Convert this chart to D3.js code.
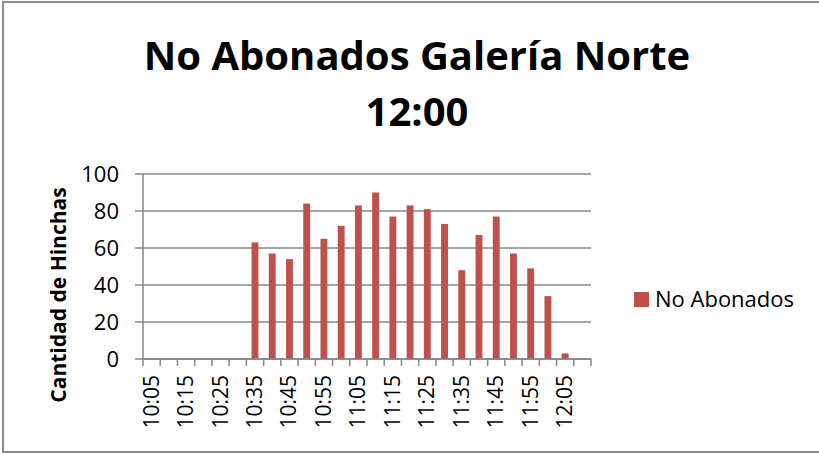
<!DOCTYPE html>
<html>
<head>
<meta charset="utf-8">
<script src="https://cdn.jsdelivr.net/npm/d3@7"></script>
<style>
  body { margin: 0; background: #fff; }
  text { font-family: "Open Sans", "Noto Sans", sans-serif; fill: #000; }
</style>
</head>
<body>
<svg width="819" height="454"></svg>
<script>
// categories every 5 minutes, labels shown every other one
var categories = ["10:05","10:10","10:15","10:20","10:25","10:30","10:35","10:40","10:45","10:50",
    "10:55","11:00","11:05","11:10","11:15","11:20","11:25","11:30","11:35","11:40",
    "11:45","11:50","11:55","12:00","12:05","12:10"];
var values = [0,0,0,0,0,0,63,57,54,84,65,72,83,90,77,83,81,73,48,67,77,57,49,34,3,0];
var yTicks = [0,20,40,60,80,100];
var seriesName = "No Abonados";
var barColor = "#c0504d";

var svg = d3.select("svg"),
    width = +svg.attr("width"),
    height = +svg.attr("height");

// chart border (left / top / bottom)
svg.append("rect")
    .attr("x", 3).attr("y", 2)
    .attr("width", width + 10).attr("height", 450)
    .attr("fill", "none")
    .attr("stroke", "#8c8c8c")
    .attr("stroke-width", 2);

var plot = {left: 143, right: 591, top: 174, bottom: 359};

var x = d3.scaleBand()
    .domain(categories)
    .range([plot.left, plot.right])
    .paddingInner(0.6)
    .paddingOuter(0.3);

var y = d3.scaleLinear()
    .domain([0, 100])
    .range([plot.bottom, plot.top]);

// gridlines
svg.append("g")
    .selectAll("line")
    .data(yTicks)
    .enter().append("line")
    .attr("x1", plot.left - 8)
    .attr("x2", plot.right)
    .attr("y1", function (d) { return y(d); })
    .attr("y2", function (d) { return y(d); })
    .attr("stroke", "#868686")
    .attr("stroke-width", 1.5);

// y labels
svg.append("g")
    .selectAll("text")
    .data(yTicks)
    .enter().append("text")
    .attr("x", 119)
    .attr("y", function (d) { return y(d); })
    .attr("dy", "0.36em")
    .attr("text-anchor", "end")
    .style("font-size", "22px")
    .text(function (d) { return d; });

// y axis line
svg.append("line")
    .attr("x1", plot.left).attr("x2", plot.left)
    .attr("y1", plot.top).attr("y2", plot.bottom)
    .attr("stroke", "#868686")
    .attr("stroke-width", 1.5);

// bars
svg.append("g")
    .selectAll("rect")
    .data(categories)
    .enter().append("rect")
    .attr("x", function (d) { return x(d); })
    .attr("width", x.bandwidth())
    .attr("y", function (d, i) { return y(values[i]); })
    .attr("height", function (d, i) { return y(0) - y(values[i]); })
    .attr("fill", barColor);

// x axis with tick marks between categories
var xAxis = svg.append("g");
xAxis.append("line")
    .attr("x1", plot.left).attr("x2", plot.right)
    .attr("y1", plot.bottom).attr("y2", plot.bottom)
    .attr("stroke", "#868686")
    .attr("stroke-width", 1.5);
xAxis.selectAll("line.tick")
    .data(d3.range(categories.length + 1))
    .enter().append("line")
    .attr("class", "tick")
    .attr("x1", function (i) { return plot.left + i * (plot.right - plot.left) / categories.length; })
    .attr("x2", function (i) { return plot.left + i * (plot.right - plot.left) / categories.length; })
    .attr("y1", plot.bottom)
    .attr("y2", plot.bottom + 7)
    .attr("stroke", "#868686")
    .attr("stroke-width", 1.5);

xAxis.selectAll("text")
    .data(categories.filter(function (d, i) { return i % 2 == 0; }))
    .enter().append("text")
    .attr("transform", function (d) {
        return "translate(" + (x(d) + x.bandwidth() / 2 + 7) + "," + (plot.bottom + 16) + ") rotate(-90)";
    })
    .attr("text-anchor", "end")
    .style("font-size", "21px")
    .text(function (d) { return d; });

// title
svg.append("text")
    .attr("x", 417).attr("y", 70)
    .attr("text-anchor", "middle")
    .style("font-size", "40px")
    .style("font-weight", "bold")
    .text("No Abonados Galería Norte");
svg.append("text")
    .attr("x", 417).attr("y", 126)
    .attr("text-anchor", "middle")
    .style("font-size", "40px")
    .style("font-weight", "bold")
    .text("12:00");

// y axis title
svg.append("text")
    .attr("transform", "translate(66,295) rotate(-90)")
    .attr("text-anchor", "middle")
    .style("font-size", "21px")
    .style("font-weight", "bold")
    .text("Cantidad de Hinchas");

// legend
svg.append("rect")
    .attr("x", 634).attr("y", 292)
    .attr("width", 15).attr("height", 15)
    .attr("fill", barColor);
svg.append("text")
    .attr("x", 655).attr("y", 307)
    .style("font-size", "22px")
    .text(seriesName);
</script>
</body>
</html>
